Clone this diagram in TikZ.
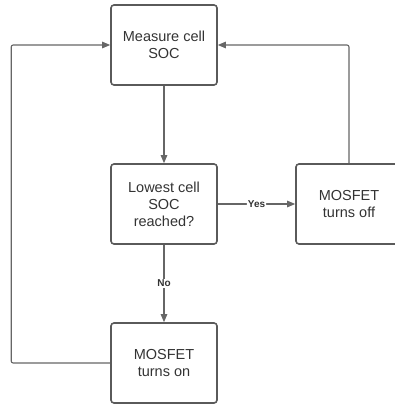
\documentclass[tikz,border=0pt]{standalone}
\usepackage{fontspec}
\setmainfont{Liberation Sans}
\usetikzlibrary{arrows.meta}

\begin{document}
\begin{tikzpicture}[
    x=1pt, y=-1pt,
    every node/.style={font=\fontsize{14.5}{17}\selectfont},
    stepbox/.style={draw=boxcolor, line width=1.6pt, rounded corners=3pt,
        minimum width=106pt, minimum height=80pt, align=center, text=textcolor},
    conn/.style={draw=linecolor, line width=1.1pt, rounded corners=2pt,
        -{Triangle[length=8pt, width=6.5pt]}},
    cond/.style={font=\fontsize{10}{12}\selectfont\bfseries, text=textcolor,
        fill=white, inner sep=1pt},
]

\definecolor{boxcolor}{HTML}{5A5A5A}   % box borders
\definecolor{linecolor}{HTML}{666666}  % connectors
\definecolor{textcolor}{HTML}{333333}

\useasboundingbox (0,0) rectangle (395,405);

% ---------------------------------------------------------------- steps
\node[stepbox] (measure) at (164,45)  {Measure cell\\SOC};
\node[stepbox] (lowest)  at (164,204) {Lowest cell\\SOC\\reached?};
\node[stepbox] (off)     at (349,204) {MOSFET\\turns off};
\node[stepbox] (on)      at (164,363) {MOSFET\\turns on};

% ---------------------------------------------------------------- flow
\draw[conn] (measure) -- (lowest);
\draw[conn] (lowest) -- node[cond] {Yes} (off);
\draw[conn] (lowest) -- node[cond] {No} (on);

% ---------------------------------------------------------------- loops back
\draw[conn] (on.west) -- ++(-99,0) |- (measure.west);
\draw[conn] (off.north) |- (measure.east);

\end{tikzpicture}
\end{document}
